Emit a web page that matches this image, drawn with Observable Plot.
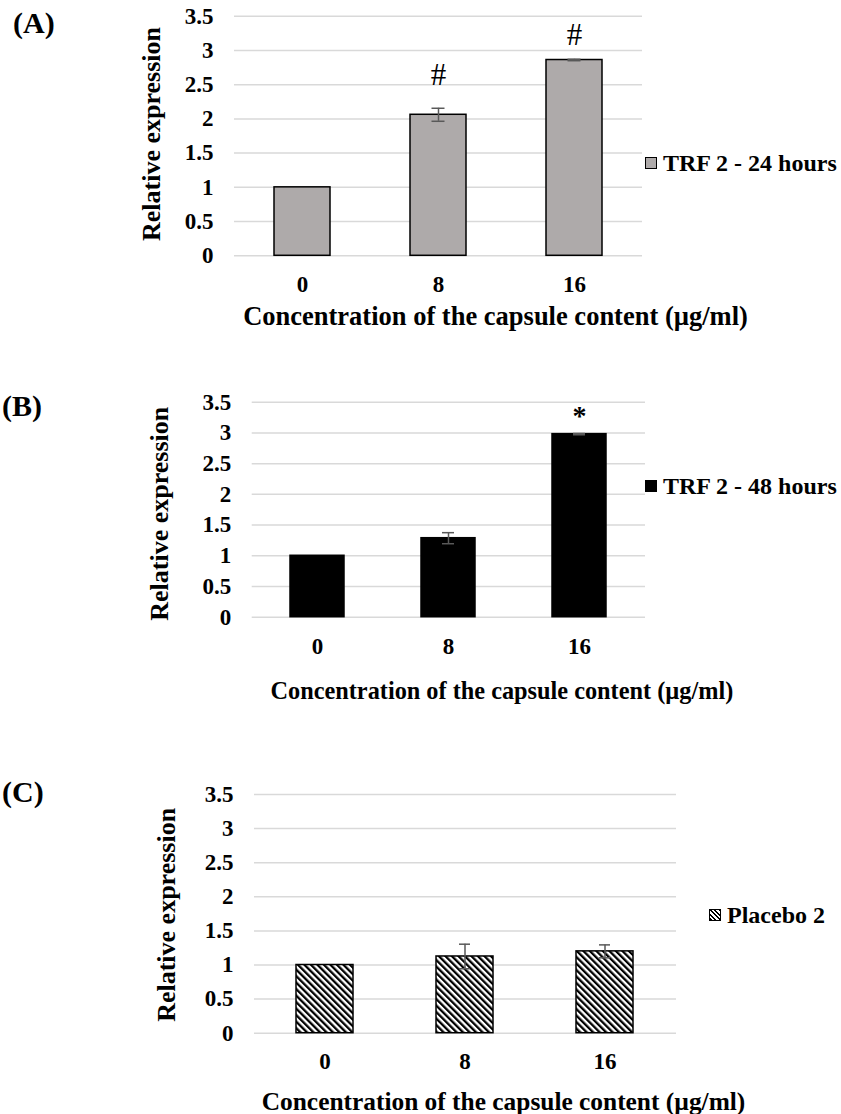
<!DOCTYPE html>
<html>
<head>
<meta charset="utf-8">
<script src="https://cdn.jsdelivr.net/npm/d3@7"></script>
<script src="https://cdn.jsdelivr.net/npm/@observablehq/plot@0.6"></script>
<style>
  html, body { margin: 0; padding: 0; background: #fff; }
  #page { position: relative; width: 841px; height: 1114px; overflow: hidden; background: #fff;
          font-family: "Liberation Serif", "Times New Roman", serif; color: #000; }
  .panel { position: absolute; left: 0; }
  .plabel { position: absolute; font-weight: bold; font-size: 30px; line-height: 30px; }
  .legend { position: absolute; display: flex; align-items: center; font-weight: bold; font-size: 24px; line-height: 24px; white-space: nowrap; }
  .sw { width: 12px; height: 12px; border: 1px solid #000; margin-right: 6px; box-sizing: border-box; }
</style>
</head>
<body>
<div id="page"></div>
<script>
// ---------- data ----------
const concentrations = ["0", "8", "16"];
const yTicks = [0, 0.5, 1, 1.5, 2, 2.5, 3, 3.5];

const trf24 = [1.0, 2.06, 2.86];
const trf24Err = [0, 0.095, 0.01];
const trf48 = [1.0, 1.286, 2.98];
const trf48Err = [0, 0.09, 0.01];
const placebo = [1.0, 1.125, 1.2];
const placeboErr = [0, 0.18, 0.095];

const annotA = [{c: "8", y: 2.64, label: "#"}, {c: "16", y: 3.23, label: "#"}];
const annotB = [{c: "16", y: 3.28, label: "*"}];
const annotC = [];

const seriesNames = ["TRF 2 - 24 hours", "TRF 2 - 48 hours", "Placebo 2"];
const panelLetters = ["(A)", "(B)", "(C)"];
const xTitle = "Concentration of the capsule content (µg/ml)";
const yTitle = "Relative expression";

// ---------- layout ----------
const page = document.getElementById("page");

function panel(cfg) {
  const data = concentrations.map((c, i) => ({c, v: cfg.values[i], e: cfg.errs[i]}));
  const errData = data.filter(d => d.e > 0);
  const chart = Plot.plot({
    width: 841,
    height: cfg.height,
    marginTop: cfg.mt, marginBottom: cfg.mb, marginLeft: cfg.ml, marginRight: cfg.mr,
    style: {fontFamily: "'Liberation Serif', 'Times New Roman', serif", fontSize: "23px", fontWeight: "bold", color: "#000", background: "none", overflow: "visible"},
    x: {type: "band", domain: concentrations, paddingInner: 0.59, paddingOuter: 0.295, align: 0.5},
    y: {domain: [0, 3.5]},
    marks: [
      Plot.ruleY(yTicks, {stroke: "#d9d9d9", strokeWidth: 1.5}),
      Plot.barY(data, {x: "c", y: "v", fill: cfg.fill, stroke: "#000", strokeWidth: 1.5}),
      Plot.ruleX(errData, {x: "c", y1: d => d.v - d.e, y2: d => d.v + d.e, stroke: "#595959", strokeWidth: 1.5}),
      Plot.tickY(errData, {x: "c", y: d => d.v - d.e, stroke: "#595959", strokeWidth: 1.5, insetLeft: cfg.capInset, insetRight: cfg.capInset}),
      Plot.tickY(errData, {x: "c", y: d => d.v + d.e, stroke: "#595959", strokeWidth: 1.5, insetLeft: cfg.capInset, insetRight: cfg.capInset}),
      Plot.text(cfg.annot, {x: "c", y: "y", text: "label", fontSize: cfg.annotSize, fontWeight: cfg.annotWeight}),
      Plot.axisY({ticks: yTicks, tickSize: 0, tickPadding: 21, tickFormat: d => String(d), label: null}),
      Plot.axisX({tickSize: 0, tickPadding: cfg.xtp, label: null}),
      Plot.text([yTitle], {frameAnchor: "left", rotate: -90, textAnchor: "middle", lineAnchor: "top", dx: cfg.ylDx, dy: cfg.ylDy, fontSize: 26}),
      Plot.text([xTitle], {frameAnchor: "bottom", textAnchor: "middle", lineAnchor: "top", dx: cfg.xtDx, dy: cfg.xtDy, fontSize: cfg.xtSize})
    ]
  });
  chart.classList.add("panel");
  chart.style.top = cfg.top + "px";
  chart.style.position = "absolute";
  if (cfg.pattern) {
    d3.select(chart).insert("defs", ":first-child").html(
      `<pattern id="diag" patternUnits="userSpaceOnUse" width="4.6" height="4.6" patternTransform="rotate(-45)">
         <rect width="4.6" height="4.6" fill="#fff"></rect>
         <rect width="2.3" height="4.6" fill="#000"></rect>
       </pattern>`);
  }
  page.appendChild(chart);

  const lab = document.createElement("div");
  lab.className = "plabel";
  lab.textContent = cfg.letter;
  lab.style.left = cfg.letterX + "px";
  lab.style.top = cfg.letterY + "px";
  page.appendChild(lab);

  const leg = document.createElement("div");
  leg.className = "legend";
  leg.style.left = cfg.legX + "px";
  leg.style.top = cfg.legY + "px";
  const sw = document.createElement("div");
  sw.className = "sw";
  sw.style.background = cfg.swatch;
  leg.appendChild(sw);
  const t = document.createElement("span");
  t.textContent = cfg.name;
  leg.appendChild(t);
  page.appendChild(leg);
}

panel({
  top: 0, height: 340, mt: 15.7, mb: 84.7, ml: 234, mr: 199,
  values: trf24, errs: trf24Err, fill: "#aeaaaa", capInset: 21.5,
  annot: annotA, annotSize: 31, annotWeight: "normal",
  xtp: 20, ylDx: -93, ylDy: -2, xtDx: 57, xtDy: 50, xtSize: 26.5,
  letter: panelLetters[0], letterX: 13, letterY: 8,
  name: seriesNames[0], legX: 645, legY: 151, swatch: "#aeaaaa"
});

panel({
  top: 340, height: 400, mt: 61.7, mb: 123.3, ml: 251.7, mr: 196,
  values: trf48, errs: trf48Err, fill: "#000", capInset: 21,
  annot: annotB, annotSize: 28, annotWeight: "bold",
  xtp: 20, ylDx: -103, ylDy: 4, xtDx: 53, xtDy: 65, xtSize: 24.3,
  letter: panelLetters[1], letterX: 2, letterY: 391,
  name: seriesNames[1], legX: 645, legY: 474, swatch: "#000"
});

panel({
  top: 740, height: 374, mt: 54, mb: 81.3, ml: 254, mr: 165,
  values: placebo, errs: placeboErr, fill: "url(#diag)", capInset: 23, pattern: true,
  annot: annotC, annotSize: 26, annotWeight: "bold",
  xtp: 19, ylDx: -98, ylDy: 1, xtDx: 38, xtDy: 59, xtSize: 25.4,
  letter: panelLetters[2], letterX: 2, letterY: 777,
  name: seriesNames[2], legX: 709, legY: 903,
  swatch: "repeating-linear-gradient(45deg, #000 0 1.6px, #fff 1.6px 3.2px)"
});
</script>
</body>
</html>
